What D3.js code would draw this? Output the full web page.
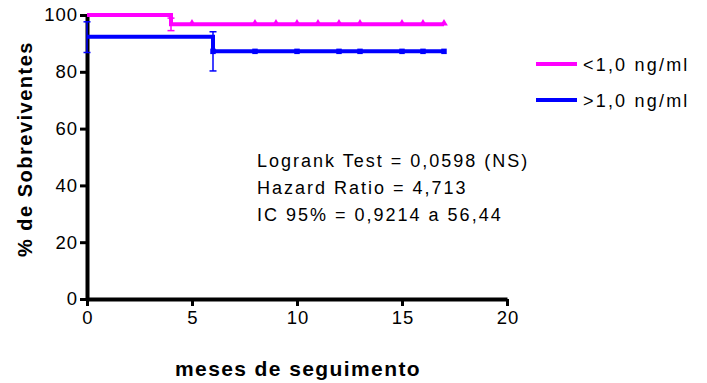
<!DOCTYPE html>
<html>
<head>
<meta charset="utf-8">
<script src="https://d3js.org/d3.v7.min.js"></script>
<style>
  body { margin: 0; background: #fff; }
  svg { display: block; font-family: Arial, "Liberation Sans", sans-serif; }
</style>
</head>
<body>
<svg id="drawing_region"></svg>
<script>
// survival curves (months, % surviving)
const lowSteps  = [{t: 0, s: 100}, {t: 4, s: 96.7}, {t: 17, s: 96.7}];
const highSteps = [{t: 0, s: 92.3}, {t: 6, s: 87.2}, {t: 17, s: 87.2}];
// censored / marked points
const lowMarks  = [5, 8, 9, 10, 11, 12, 13, 15, 16, 17];
const highMarks = [6, 8, 10, 12, 13, 15, 16, 17];
// error bars {t, s, lo, hi}
const lowErr  = [{t: 4, s: 96.7, lo: 94.5, hi: 98.9}];
const highErr = [{t: 0, s: 92.3, lo: 86.8, hi: 97.6}, {t: 6, s: 87.2, lo: 80.3, hi: 94.1}];

const xTicks = [0, 5, 10, 15, 20];
const yTicks = [0, 20, 40, 60, 80, 100];
const seriesNames = ["<1,0 ng/ml", ">1,0 ng/ml"];
const statsText = ["Logrank Test = 0,0598 (NS)", "Hazard Ratio = 4,713", "IC 95% = 0,9214 a 56,44"];

const config = {
    width: 707,
    height: 383
};

const svg = d3.select('#drawing_region')
    .attr('width', config.width)
    .attr('height', config.height);

const x = d3.scaleLinear().domain([0, 20]).range([87, 507]);
const y = d3.scaleLinear().domain([0, 100]).range([299, 15]);

// axes
const xAxis = svg.append('g')
    .attr('transform', `translate(0, ${y(0)})`)
    .call(d3.axisBottom(x).tickValues(xTicks).tickSize(7).tickSizeOuter(0).tickPadding(5));
const yAxis = svg.append('g')
    .attr('transform', `translate(${x(0)}, 0)`)
    .call(d3.axisLeft(y).tickValues(yTicks).tickSize(7).tickSizeOuter(0).tickPadding(2));

[xAxis, yAxis].forEach(g => {
    g.select('.domain').attr('stroke', '#000').attr('stroke-width', 4);
    g.selectAll('.tick line').attr('stroke', '#000').attr('stroke-width', 3);
    g.selectAll('.tick text')
        .attr('fill', '#000')
        .style('font-size', '18.5px')
        .style('letter-spacing', '1px');
});
xAxis.selectAll('.tick text').attr('dx', '0.5px');

// series
const line = d3.line()
    .x(d => x(d.t))
    .y(d => y(d.s))
    .curve(d3.curveStepAfter);

function stepValue(steps, t) {
    let v = steps[0].s;
    steps.forEach(d => { if (d.t <= t) v = d.s; });
    return v;
}

function drawErr(data, color) {
    const g = svg.append('g');
    data.forEach(d => {
        g.append('line')
            .attr('x1', x(d.t)).attr('x2', x(d.t))
            .attr('y1', y(d.lo)).attr('y2', y(d.hi))
            .attr('stroke', color).attr('stroke-width', 1.5);
        [d.lo, d.hi].forEach(v => {
            g.append('line')
                .attr('x1', x(d.t) - 3.5).attr('x2', x(d.t) + 3.5)
                .attr('y1', y(v)).attr('y2', y(v))
                .attr('stroke', color).attr('stroke-width', 1.5);
        });
    });
}

drawErr(highErr, '#0000ff');
drawErr(lowErr, '#ff00ff');

svg.append('path')
    .datum(highSteps)
    .attr('d', line)
    .attr('fill', 'none')
    .attr('stroke', '#0000ff')
    .attr('stroke-width', 4);

svg.append('path')
    .datum(lowSteps)
    .attr('d', line)
    .attr('fill', 'none')
    .attr('stroke', '#ff00ff')
    .attr('stroke-width', 4);

const tri = d3.symbol().type(d3.symbolTriangle).size(26);
const sq = d3.symbol().type(d3.symbolSquare).size(30);

svg.append('g').selectAll('path')
    .data(highMarks)
    .join('path')
    .attr('transform', t => `translate(${x(t)}, ${y(stepValue(highSteps, t))})`)
    .attr('d', sq)
    .attr('fill', '#0000ff');

svg.append('g').selectAll('path')
    .data(lowMarks)
    .join('path')
    .attr('transform', t => `translate(${x(t)}, ${y(stepValue(lowSteps, t)) - 1})`)
    .attr('d', tri)
    .attr('fill', '#ff00ff');

// legend
const legendColors = ['#ff00ff', '#0000ff'];
const legendSymbols = [tri, sq];
const legend = svg.append('g').selectAll('g')
    .data(seriesNames)
    .join('g')
    .attr('transform', (d, i) => `translate(536, ${64 + i * 36})`);
legend.append('line')
    .attr('x1', 0).attr('x2', 41)
    .attr('stroke', (d, i) => legendColors[i])
    .attr('stroke-width', 4);
legend.append('path')
    .attr('transform', 'translate(21, 0)')
    .attr('d', (d, i) => legendSymbols[i])
    .attr('fill', (d, i) => legendColors[i]);
legend.append('text')
    .attr('x', 47)
    .attr('y', 6.5)
    .style('font-size', '18px')
    .style('letter-spacing', '2.2px')
    .attr('fill', '#000')
    .text(d => d);

// statistics block
svg.append('g').selectAll('text')
    .data(statsText)
    .join('text')
    .attr('x', 257)
    .attr('y', (d, i) => 167 + i * 27)
    .style('font-size', '18px')
    .style('letter-spacing', '2px')
    .attr('fill', '#000')
    .text(d => d);

// axis titles
svg.append('text')
    .attr('x', 298)
    .attr('y', 376)
    .attr('text-anchor', 'middle')
    .style('font-size', '21px')
    .style('font-weight', 'bold')
    .style('letter-spacing', '1.4px')
    .attr('fill', '#000')
    .text('meses de seguimento');

svg.append('text')
    .attr('transform', 'translate(32, 149) rotate(-90)')
    .attr('text-anchor', 'middle')
    .style('font-size', '20px')
    .style('font-weight', 'bold')
    .style('letter-spacing', '1.5px')
    .attr('fill', '#000')
    .text('% de Sobreviventes');
</script>
</body>
</html>
